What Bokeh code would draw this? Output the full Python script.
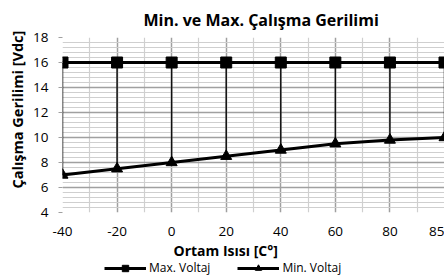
from bokeh.plotting import figure
from bokeh.layouts import column
from bokeh.models import (Range1d, FixedTicker, SingleIntervalTicker, Legend, LegendItem, Title)
from bokeh.embed import file_html
from bokeh.resources import INLINE

categories = ["-40", "-20", "0", "20", "40", "60", "80", "85"]
max_voltaj = [16, 16, 16, 16, 16, 16, 16, 16]
min_voltaj = [7.0, 7.5, 8.0, 8.5, 9.0, 9.5, 9.8, 10.0]
series_names = ["Max. Voltaj", "Min. Voltaj"]

xs = list(range(len(categories)))
FONT = "Open Sans"

p = figure(width=444, height=260, output_backend="svg", toolbar_location=None,
           x_range=Range1d(0, len(categories) - 1), y_range=Range1d(4, 18),
           min_border_left=62, min_border_right=0, min_border_top=37, min_border_bottom=48)
p.outline_line_color = None

p.title.text = "Min. ve Max. Çalışma Gerilimi"
p.title.text_font = FONT
p.title.text_font_size = "16px"
p.title.text_font_style = "bold"
p.title.align = "left"
p.title.offset = 81
p.title.standoff = 13
p.title.text_color = "#000000"

# axes
p.xaxis.ticker = FixedTicker(ticks=xs, minor_ticks=[i + 0.5 for i in xs[:-1]])
p.xaxis.major_label_overrides = {i: c for i, c in zip(xs, categories)}
p.yaxis.ticker = SingleIntervalTicker(interval=2, num_minor_ticks=5)
for ax in (p.xaxis[0], p.yaxis[0]):
    ax.axis_line_color = None
    ax.minor_tick_line_color = None
    ax.major_label_text_font = FONT
    ax.major_label_text_font_size = "13.5px"
    ax.major_label_text_color = "#000000"
p.xaxis.major_tick_line_color = None
p.xaxis.major_tick_out = 0
p.xaxis.major_label_standoff = 10
p.yaxis.major_tick_line_color = "#a0a0a0"
p.yaxis.major_tick_out = 4
p.yaxis.major_tick_in = 0
p.yaxis.major_label_standoff = 10

# axis titles placed as Titles so they can sit off-centre like the reference
xlab = Title(text="Ortam Isısı [C°]", align="left", offset=111, standoff=1,
             text_font=FONT, text_font_size="14px", text_font_style="bold", text_color="#000000")
p.add_layout(xlab, "below")
ylab = Title(text="Çalışma Gerilimi [Vdc]", align="left", offset=24, standoff=7,
             text_font=FONT, text_font_size="14.5px", text_font_style="bold", text_color="#000000")
p.add_layout(ylab, "left")

# grids
for g in (p.xgrid[0], p.ygrid[0]):
    g.grid_line_color = "#a0a0a0"
    g.grid_line_width = 1.5
    g.minor_grid_line_color = "#cfcfcf"
    g.minor_grid_line_width = 1.2

# high-low lines
p.segment(x0=xs, y0=max_voltaj, x1=xs, y1=min_voltaj, line_color="#111111", line_width=1.5)

line_kw = dict(line_color="#000000", line_width=3)
mk_kw = dict(size=11, fill_color="#000000", line_color="#000000")
p.line(xs, max_voltaj, **line_kw)
p.scatter(xs, max_voltaj, marker="square", **mk_kw)
p.line(xs, min_voltaj, **line_kw)
p.scatter(xs, min_voltaj, marker="triangle", **mk_kw)

# legend strip below the chart
lf = figure(width=444, height=16, output_backend="svg", toolbar_location=None,
            x_range=Range1d(0, 1), y_range=Range1d(0, 1),
            min_border=0, x_axis_type=None, y_axis_type=None)
lf.outline_line_color = None
lf.grid.visible = False
r1 = [lf.line(xs, max_voltaj, visible=False, **line_kw),
      lf.scatter(xs, max_voltaj, marker="square", visible=False, **mk_kw)]
r2 = [lf.line(xs, min_voltaj, visible=False, **line_kw),
      lf.scatter(xs, min_voltaj, marker="triangle", visible=False, **mk_kw)]
legend = Legend(items=[LegendItem(label=series_names[0], renderers=r1),
                       LegendItem(label=series_names[1], renderers=r2)],
                orientation="horizontal", location=(42, 0),
                glyph_width=42, glyph_height=16, label_height=16, label_standoff=3, spacing=27,
                label_text_font=FONT, label_text_font_size="12px", label_text_color="#000000",
                inactive_fill_alpha=0,
                border_line_color=None, background_fill_alpha=0, padding=0, margin=0)
lf.add_layout(legend, "center")

layout = column(p, lf, spacing=0)
open("out.html", "w").write(file_html(layout, INLINE))
